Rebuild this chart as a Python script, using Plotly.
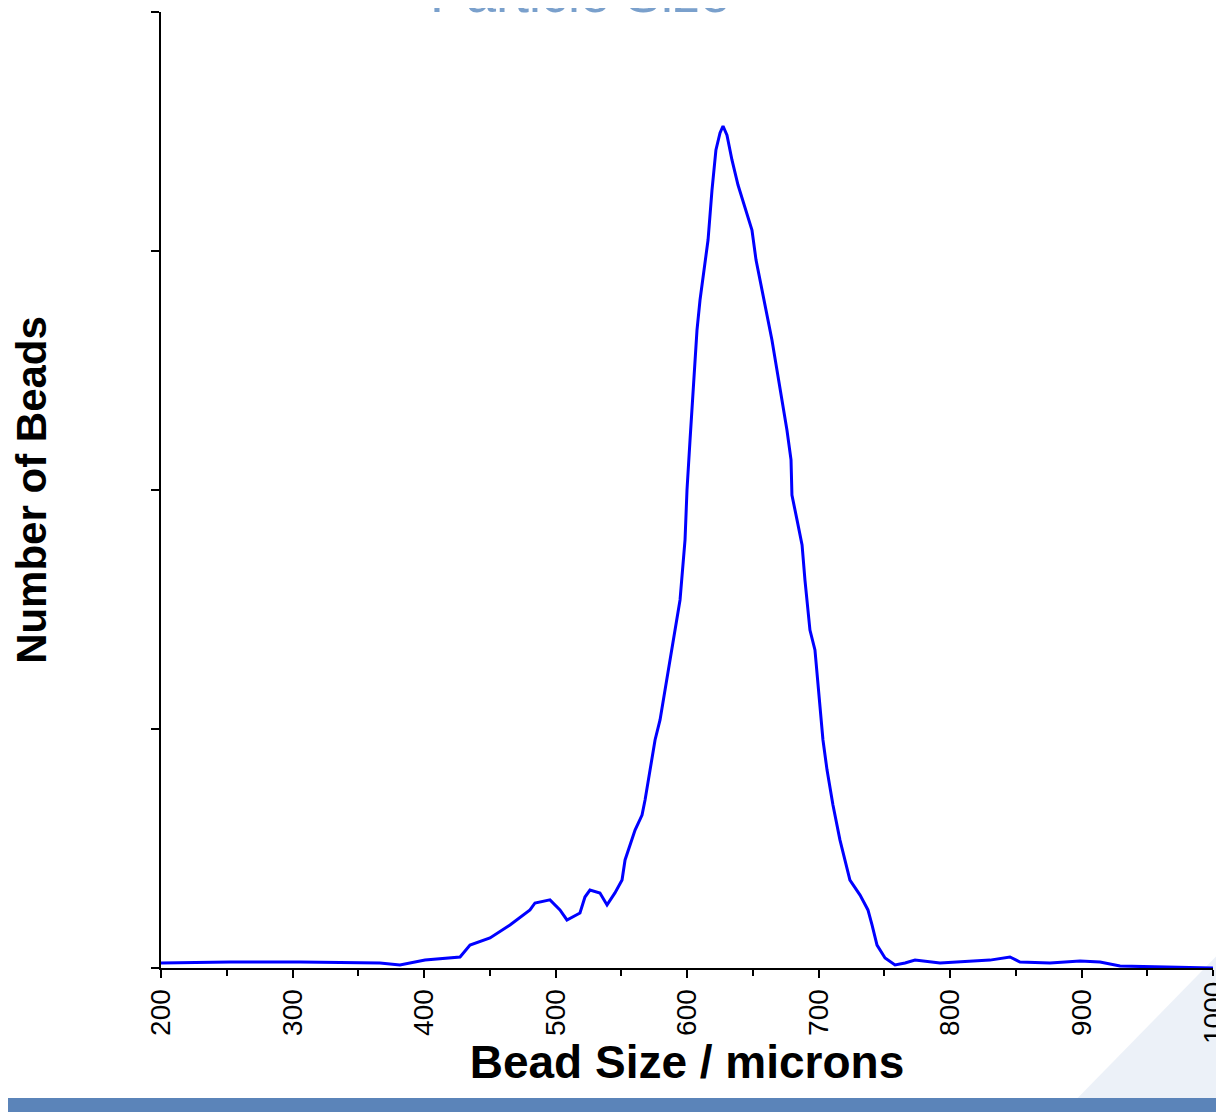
import plotly.graph_objects as go

size_um = [200, 252.5, 305.7, 366.5, 381.7, 400.8, 427.4, 435, 450.2, 465.4, 480.6, 484.4, 495.8, 503.4,
           508.7, 518.6, 522.4, 526.2, 533.8, 539.2, 545.2, 550.6, 552.9, 560.5, 565.8, 568.1, 571.9,
           575.7, 579.5, 583.3, 587.1, 590.9, 594.7, 598.5, 600, 602.3, 604.6, 607.6, 609.9, 612.9, 616,
           619, 622, 625.1, 627.4, 630.4, 634.2, 638.8, 644.1, 649.4, 652.5, 657, 661.6, 664.6, 668.4,
           672.2, 676, 679.1, 679.8, 683.7, 687.5, 689.7, 693.5, 697.3, 700.4, 703.4, 706.5, 711, 716.3,
           720.1, 723.9, 731.6, 737.6, 740.7, 744.5, 750.6, 758.2, 765.8, 773.4, 792.4, 830.4, 845.6,
           853.2, 876, 898.9, 914.1, 929.3, 1000]
beads = [2.1, 2.5, 2.5, 2.1, 1.3, 3.3, 4.6, 9.6, 12.6, 18, 24.3, 27.2, 28.5, 24.3,
         20.1, 23, 29.7, 32.6, 31.4, 26.4, 31.4, 36.8, 45.2, 57.7, 64, 70.3, 82.8,
         95.4, 103.8, 116.3, 128.9, 141.4, 154, 179.1, 200, 220.9, 241.8, 266.9, 279.5, 292, 304.6,
         325.5, 342.3, 349.4, 352.3, 348.5, 338.1, 327.6, 318.4, 308.8, 296.2, 283.7, 271.1, 262.8, 250.2,
         237.7, 225.1, 212.6, 197.9, 187.4, 177, 162.3, 141.4, 133.1, 112.1, 95.4, 82.8, 68.2, 53.6,
         45.2, 36.8, 30.5, 24.3, 18, 9.6, 4.2, 1.3, 2.1, 3.3, 2.1, 3.3, 4.6,
         2.5, 2.1, 2.9, 2.5, 0.8, 0]
x_ticks = [200, 300, 400, 500, 600, 700, 800, 900, 1000]

fig = go.Figure(go.Scatter(x=size_um, y=beads, mode="lines", line=dict(color="#0000ff", width=3)))

fig.update_layout(
    width=1216, height=1104, paper_bgcolor="white", plot_bgcolor="white",
    margin=dict(l=153, r=11, t=4, b=144, autoexpand=False), showlegend=False,
    font=dict(family="Liberation Sans, Arial", color="black"),
    xaxis=dict(range=[200, 1000], tickvals=x_ticks[:-1], ticktext=[str(v) for v in x_ticks[:-1]], tickangle=-90,
               tickfont=dict(size=28), ticks="outside", ticklen=8, tickwidth=2, tickcolor="black",
               minor=dict(dtick=50, ticks="outside", ticklen=6, tickwidth=2, tickcolor="black"),
               showline=True, linecolor="black", linewidth=2, showgrid=False, zeroline=False, automargin=False,
               title=dict(text="<b>Bead Size / microns</b>", font=dict(size=46), standoff=8)),
    yaxis=dict(range=[0, 400], tickvals=[0, 100, 200, 300, 400], showticklabels=False,
               ticks="outside", ticklen=8, tickwidth=2, tickcolor="black", automargin=False,
               showline=True, linecolor="black", linewidth=2, showgrid=False, zeroline=False,
               title=dict(text="<b>Number of Beads</b>", font=dict(size=42), standoff=104)),
    shapes=[
        dict(type="path", xref="paper", yref="paper", layer="below",
             path="M 0.85 -0.16 L 1.01 0.02 L 1.06 0.02 L 1.06 -0.16 Z",
             fillcolor="rgba(200,215,235,0.35)", line=dict(width=0)),
        dict(type="rect", xref="paper", yref="paper", x0=-0.2, x1=1.02, y0=-0.16, y1=-0.136,
             fillcolor="#5b84b9", line=dict(width=0), layer="below"),
        dict(type="line", xref="x", yref="paper", x0=x_ticks[-1], x1=x_ticks[-1], y0=0, y1=-0.0084,
             line=dict(color="black", width=2)),
    ],
    annotations=[
        dict(text="Particle Size", xref="paper", yref="paper", x=0.398, y=1, yanchor="bottom",
             yshift=-13, showarrow=False, font=dict(size=54, color="#7aa0cc")),
        dict(text=str(x_ticks[-1]), xref="x", yref="paper", x=x_ticks[-1], y=0, yanchor="top",
             yshift=-12, textangle=-90, showarrow=False, font=dict(size=28, color="black")),
    ],
)
fig.write_html("out.html")
